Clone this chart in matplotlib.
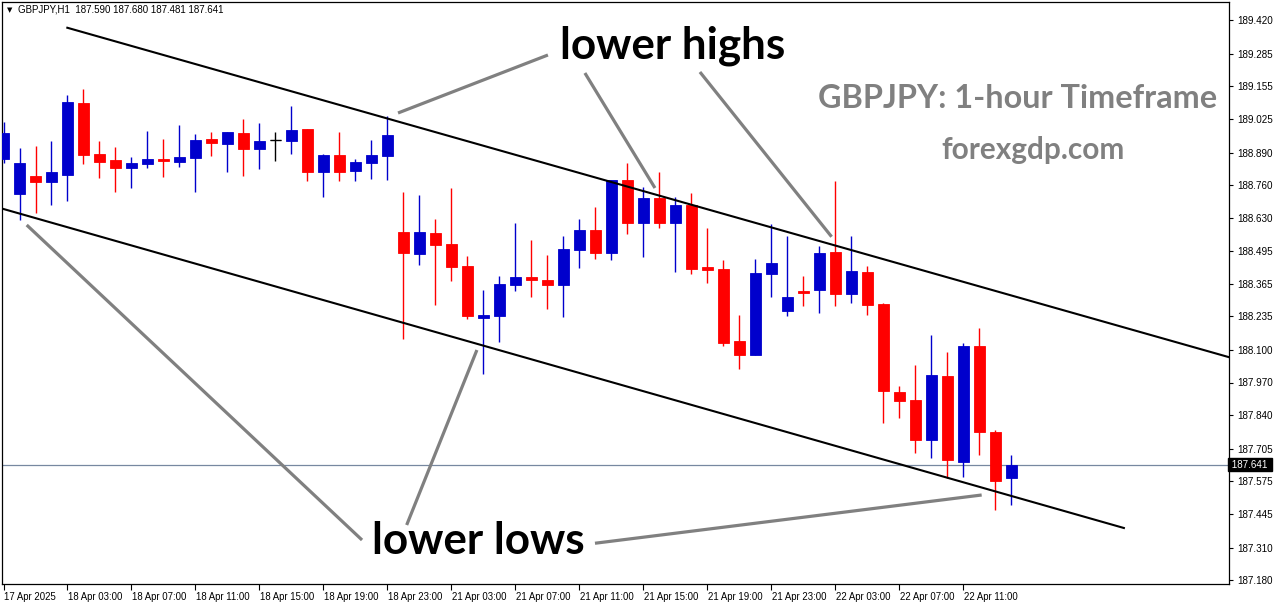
import matplotlib.pyplot as plt
import matplotlib.transforms as mtransforms
import numpy as np

# GBPJPY H1 candles, 17 Apr 23:00 .. 22 Apr 14:00
opens = [188.865, 188.725, 188.796, 188.773, 188.801, 189.088, 188.884, 188.860, 188.829, 188.845,
         188.864, 188.852, 188.869, 188.944, 188.925, 188.968, 188.905, 188.939, 188.937, 188.984,
         188.813, 188.880, 188.817, 188.849, 188.877, 188.572, 188.485, 188.568, 188.524, 188.436,
         188.229, 188.237, 188.361, 188.392, 188.380, 188.361, 188.501, 188.580, 188.489, 188.780,
         188.609, 188.708, 188.609, 188.680, 188.433, 188.425, 188.136, 188.081, 188.405, 188.257,
         188.336, 188.341, 188.492, 188.325, 188.412, 188.284, 187.932, 187.900, 187.741, 187.996,
         187.653, 188.116, 187.772, 187.590]
highs = [189.012, 188.909, 188.917, 188.936, 189.120, 189.144, 188.936, 188.912, 188.872, 188.976,
         188.944, 189.000, 188.964, 188.973, 188.972, 189.024, 189.008, 188.972, 189.076, 188.984,
         188.884, 188.972, 188.864, 188.940, 189.036, 188.732, 188.720, 188.624, 188.748, 188.476,
         188.340, 188.396, 188.608, 188.540, 188.480, 188.556, 188.624, 188.672, 188.780, 188.848,
         188.752, 188.812, 188.712, 188.728, 188.588, 188.460, 188.241, 188.465, 188.604, 188.556,
         188.396, 188.516, 188.776, 188.556, 188.436, 188.288, 187.956, 188.040, 188.160, 188.092,
         188.128, 188.188, 187.780, 187.680]
lows = [188.848, 188.621, 188.649, 188.681, 188.696, 188.845, 188.789, 188.733, 188.749, 188.827,
        188.793, 188.833, 188.733, 188.877, 188.813, 188.797, 188.825, 188.857, 188.885, 188.777,
        188.713, 188.777, 188.777, 188.785, 188.781, 188.145, 188.441, 188.281, 188.377, 188.225,
        188.005, 188.133, 188.337, 188.313, 188.265, 188.233, 188.429, 188.465, 188.461, 188.565,
        188.473, 188.589, 188.413, 188.405, 188.369, 188.117, 188.025, 188.081, 188.313, 188.237,
        188.277, 188.249, 188.277, 188.289, 188.241, 187.809, 187.829, 187.689, 187.669, 187.589,
        187.593, 187.681, 187.461, 187.481]
closes = [188.969, 188.848, 188.773, 188.812, 189.092, 188.881, 188.853, 188.829, 188.848, 188.864,
          188.857, 188.872, 188.940, 188.929, 188.972, 188.905, 188.936, 188.939, 188.980, 188.813,
          188.880, 188.813, 188.852, 188.880, 188.960, 188.489, 188.572, 188.521, 188.433, 188.237,
          188.241, 188.364, 188.392, 188.381, 188.361, 188.504, 188.580, 188.489, 188.780, 188.609,
          188.708, 188.609, 188.680, 188.425, 188.421, 188.129, 188.081, 188.408, 188.448, 188.312,
          188.329, 188.488, 188.325, 188.416, 188.281, 187.937, 187.897, 187.741, 188.000, 187.661,
          188.116, 187.773, 187.577, 187.641]

time_labels = ["17 Apr 2025", "18 Apr 03:00", "18 Apr 07:00", "18 Apr 11:00", "18 Apr 15:00",
               "18 Apr 19:00", "18 Apr 23:00", "21 Apr 03:00", "21 Apr 07:00", "21 Apr 11:00",
               "21 Apr 15:00", "21 Apr 19:00", "21 Apr 23:00", "22 Apr 03:00", "22 Apr 07:00",
               "22 Apr 11:00"]
price_ticks = [189.420, 189.285, 189.155, 189.025, 188.890, 188.760, 188.630, 188.495, 188.365,
               188.235, 188.100, 187.970, 187.840, 187.705, 187.575, 187.445, 187.310, 187.180]
last_price = 187.641

# channel lines (bar index, price)
upper_line = [(3.99, 189.389), (76.78, 188.068)]
lower_line = [(-0.22, 188.668), (70.03, 187.388)]

# grey pointer lines
pointers = [
    [(24.66, 189.048), (34.03, 189.280)],
    [(36.34, 189.208), (40.72, 188.748)],
    [(43.53, 189.212), (51.76, 188.553)],
    [(1.45, 188.600), (22.41, 187.340)],
    [(25.20, 187.400), (29.59, 188.100)],
    [(36.97, 187.327), (61.14, 187.520)],
]

W, H = 1276, 604
fig = plt.figure(figsize=(W / 100, H / 100), dpi=100)
ax = fig.add_axes([2 / W, 1 - 584 / H, 1227 / W, 582 / H])

o = np.array(opens); h = np.array(highs); l = np.array(lows); c = np.array(closes)
idx = np.arange(len(o))
cols = np.where(c > o, '#0000CC', np.where(c < o, '#FF0000', 'black'))

ax.vlines(idx, l, h, colors=cols, linewidth=1.0, zorder=3)
body_lo = np.minimum(o, c)
body_h = np.abs(c - o)
ax.bar(idx, body_h, bottom=body_lo, width=0.69, color=cols, edgecolor=cols, linewidth=0.6, zorder=4)
for i in idx[c == o]:
    ax.hlines(o[i], i - 0.34, i + 0.34, colors='black', linewidth=1.0, zorder=4)

ax.axhline(last_price, color='#7788A0', linewidth=0.9, zorder=2)

for line in (upper_line, lower_line):
    xs, ys = zip(*line)
    ax.plot(xs, ys, color='black', linewidth=1.5, zorder=5)
for line in pointers:
    xs, ys = zip(*line)
    ax.plot(xs, ys, color='#808080', linewidth=2.3, zorder=5, solid_capstyle='butt')

ax.set_xlim(-0.094, 76.6)
ax.set_ylim(187.164, 189.492)

small = ['Liberation Sans', 'DejaVu Sans']
ax.yaxis.tick_right()
ax.set_yticks(price_ticks)
ax.set_yticklabels(['%.3f' % p for p in price_ticks], family=small)
ax.tick_params(axis='y', direction='out', length=3, width=0.8, labelsize=7.1, pad=3)

ax.set_xticks(idx[::4])
ax.set_xticklabels(time_labels, ha='left', family=small)
ax.tick_params(axis='x', direction='out', length=4, width=0.8, labelsize=6.9, pad=2)
offset = mtransforms.ScaledTranslation(0.5 / 72, 0, fig.dpi_scale_trans)
for lab in ax.get_xticklabels():
    lab.set_transform(lab.get_transform() + offset)

for sp in ax.spines.values():
    sp.set_color('black')
    sp.set_linewidth(0.9)

ax.text(1.0, last_price, ' 187.641 ', transform=ax.get_yaxis_transform(), ha='left', va='center',
        fontsize=7.1, family=small, color='white', zorder=10,
        bbox=dict(boxstyle='square,pad=0.15', facecolor='black', edgecolor='black'))

fig.text(7 / W, 1 - 10 / H, '\u25BC', fontsize=5, va='center', ha='left')
fig.text(18 / W, 1 - 10 / H, 'GBPJPY,H1  187.590 187.680 187.481 187.641', fontsize=7,
         family=small, va='center', ha='left')

big = dict(family=['Lato', 'DejaVu Sans'], fontweight='bold')
fig.text(673 / W, 1 - 46 / H, 'lower highs', fontsize=31.7, color='black', ha='center', va='center', **big)
fig.text(478 / W, 1 - 541 / H, 'lower lows', fontsize=31.7, color='black', ha='center', va='center', **big)
fig.text(1018 / W, 1 - 98 / H, 'GBPJPY: 1-hour Timeframe', fontsize=23.3, color='#808080',
         ha='center', va='center', **big)
fig.text(1033 / W, 1 - 150 / H, 'forexgdp.com', fontsize=21.4, color='#808080',
         ha='center', va='center', **big)

fig.savefig('out.png', dpi=100, facecolor='white')
